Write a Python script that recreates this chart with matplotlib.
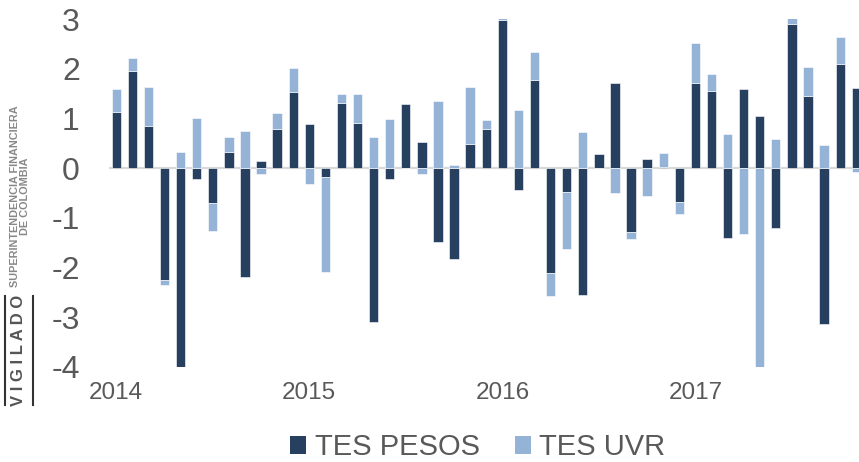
import matplotlib
matplotlib.use("Agg")
import matplotlib.pyplot as plt
from matplotlib.patches import Patch
import numpy as np

plt.rcParams['font.family'] = ['Liberation Sans', 'DejaVu Sans']

months = [f"{y}-{m:02d}" for y in range(2014, 2018) for m in range(1, 13)][:47]
tes_pesos = [1.12, 1.95, 0.84, -2.25, -4.30, -0.22, -0.70, 0.32, -2.18, 0.15, 0.79, 1.54,
             0.89, -0.17, 1.32, 0.91, -3.09, -0.22, 1.30, 0.52, -1.49, -1.83, 0.48, 0.79,
             2.97, -0.44, 1.78, -2.10, -0.47, -2.56, 0.29, 1.71, -1.28, 0.19, 0.02, -0.69,
             1.71, 1.56, -1.40, 1.59, 1.04, -1.21, 2.89, 1.46, -3.13, 2.09, 1.61]
tes_uvr = [0.47, 0.27, 0.80, -0.10, 0.32, 1.01, -0.56, 0.31, 0.75, -0.12, 0.32, 0.47,
           -0.31, -1.91, 0.18, 0.59, 0.63, 0.99, 0.00, -0.12, 1.36, 0.06, 1.16, 0.18,
           0.10, 1.17, 0.56, -0.48, -1.16, 0.73, 0.00, -0.50, -0.15, -0.57, 0.28, -0.23,
           0.80, 0.34, 0.69, -1.33, -4.30, 0.59, 0.15, 0.58, 0.46, 0.54, -0.07]
year_labels = ["2014", "2015", "2016", "2017"]

dark = "#27405F"
light = "#95B3D7"
gray = "#595959"

fig = plt.figure(figsize=(8.59, 4.62), dpi=100)
ax = fig.add_axes([109/859, 95/462, 750/859, 348/462])

x = np.arange(len(months))
p = np.array(tes_pesos)
u = np.array(tes_uvr)
bottom_u = np.where(np.sign(u) == np.sign(p), p, 0.0)

ax.axhline(0, color="#d9d9d9", lw=1.6, zorder=1)
ax.bar(x, p, width=0.58, color=dark, edgecolor="white", linewidth=0.4, zorder=2)
ax.bar(x, u, width=0.58, bottom=bottom_u, color=light, edgecolor="white", linewidth=0.4, zorder=2)

ax.set_xlim(-0.45, 46.17)
ax.set_ylim(-4, 3)
ax.set_yticks(range(-4, 4))
ax.set_yticklabels([str(v) for v in range(-4, 4)])
ax.set_xticks([0, 12, 24, 36])
ax.set_xticklabels(year_labels)
ax.tick_params(axis='y', length=0, pad=21, labelsize=23, labelcolor=gray)
ax.tick_params(axis='x', length=0, pad=11, labelsize=17.5, labelcolor=gray)
for s in ax.spines.values():
    s.set_visible(False)

handles = [Patch(facecolor=dark, edgecolor='none', label="TES PESOS"),
           Patch(facecolor=light, edgecolor='none', label="TES UVR")]
fig.legend(handles=handles, loc='center', bbox_to_anchor=(0.556, 0.032), ncol=2,
           frameon=False, fontsize=21, handlelength=0.55, handleheight=0.55,
           handletextpad=0.3, columnspacing=1.2, labelcolor=gray, borderaxespad=0)

# Watermark on the left margin
fig.text(19/859, 1 - 350/462, "V I G I L A D O", rotation=90, fontsize=12, fontweight='bold',
         color="#555555", ha='center', va='center')
fig.add_artist(plt.Line2D([5/859, 5/859], [1 - 296/462, 1 - 405/462], color="#333333", lw=1.5))
fig.add_artist(plt.Line2D([33/859, 33/859], [1 - 296/462, 1 - 405/462], color="#333333", lw=1.5))
fig.text(15/859, 1 - 196/462, "SUPERINTENDENCIA FINANCIERA", rotation=90, fontsize=7.8,
         family=['Liberation Sans Narrow', 'Liberation Sans'], fontweight='bold',
         color="#888888", ha='center', va='center')
fig.text(25/859, 1 - 196/462, "DE COLOMBIA", rotation=90, fontsize=7.8,
         family=['Liberation Sans Narrow', 'Liberation Sans'], fontweight='bold',
         color="#888888", ha='center', va='center')

fig.savefig("out.png", dpi=100)
